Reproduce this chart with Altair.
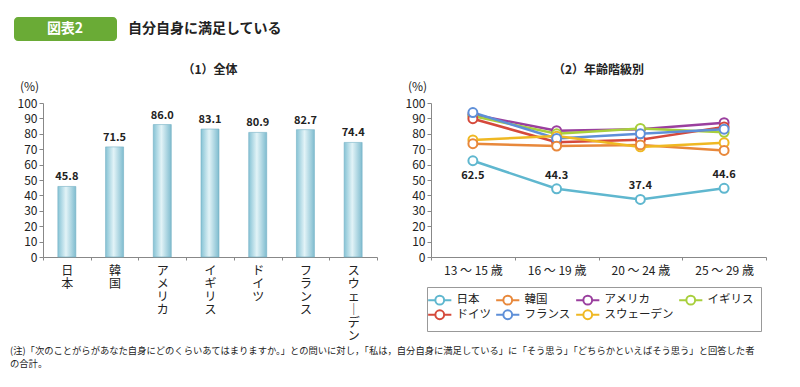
import altair as alt
import pandas as pd

FONT = "Noto Sans CJK JP"

countries = ["日本", "韓国", "アメリカ", "イギリス", "ドイツ", "フランス", "スウェーデン"]
overall = [45.8, 71.5, 86.0, 83.1, 80.9, 82.7, 74.4]
ages = ["13 ～ 15 歳", "16 ～ 19 歳", "20 ～ 24 歳", "25 ～ 29 歳"]
japan = [62.5, 44.3, 37.4, 44.6]
korea = [73.6, 72.0, 72.8, 69.2]
usa = [92.5, 82.0, 83.0, 87.2]
uk = [91.5, 80.0, 83.5, 81.0]
germany = [89.8, 74.5, 76.2, 84.5]
france = [93.8, 77.0, 80.0, 83.0]
sweden = [76.0, 78.5, 71.5, 74.2]
colors = ["#5fb7cf", "#e8883b", "#9a3f9e", "#a8cf3c", "#d5493b", "#5e8fd8", "#efb823"]

title_label = "図表2"
title_text = "自分自身に満足している"
sub1 = "（1）全体"
sub2 = "（2）年齢階級別"
note = [
    "(注)「次のことがらがあなた自身にどのくらいあてはまりますか。」との問いに対し，「私は，自分自身に満足している」に「そう思う」「どちらかといえばそう思う」と回答した者",
    "\u3000 の合計。",
]

bar_df = pd.DataFrame({"country": countries, "value": overall})
series = [japan, korea, usa, uk, germany, france, sweden]
rows = []
for c, vals in zip(countries, series):
    for a, v in zip(ages, vals):
        rows.append({"country": c, "age": a, "value": v})
line_df = pd.DataFrame(rows)

yscale = alt.Scale(domain=[0, 100], nice=False)
yaxis = alt.Axis(values=list(range(0, 101, 10)), title="(%)", titleAngle=0, titleX=-14, titleY=-10,
                 titleAlign="center", titleBaseline="bottom", titleFontWeight="normal",
                 titleFontSize=12, grid=False, tickSize=4, labelPadding=2, labelOverlap=False,
                 labelFontSize=12)
Y = alt.Y("value:Q", scale=yscale, axis=yaxis)

# Header
hdr_base = alt.Chart(alt.Data(values=[{"a": 1}]))
hdr = alt.layer(
    hdr_base.mark_rect(color="#6aab36", cornerRadius=4).encode(
        x=alt.value(-29), x2=alt.value(74), y=alt.value(9), y2=alt.value(33)),
    hdr_base.mark_text(color="white", fontSize=14, fontWeight="bold", font=FONT).encode(
        x=alt.value(22), y=alt.value(21), text=alt.value(title_label)),
    hdr_base.mark_text(color="#222", fontSize=14, fontWeight="bold", font=FONT, align="left").encode(
        x=alt.value(85), y=alt.value(21), text=alt.value(title_text)),
).properties(width=700, height=34)

# Left: bars
grad = alt.Gradient(gradient="linear", x1=0, x2=1, y1=0, y2=0,
                    stops=[alt.GradientStop(color="#86c3d5", offset=0),
                           alt.GradientStop(color="#e2f3f7", offset=0.45),
                           alt.GradientStop(color="#7fbccf", offset=1)])
xb = alt.X("country:N", sort=countries, title=None,
           scale=alt.Scale(paddingInner=0, paddingOuter=0),
           axis=alt.Axis(labelAngle=0, labelBaseline="top", tickBand="extent", tickSize=3,
                         labelExpr="split(replace(datum.label,'ー','｜'),'')",
                         labelLineHeight=13, labelFontSize=12, labelPadding=5))
bars = alt.Chart(bar_df).mark_bar(size=18, color=grad, stroke="#74b0c4", strokeWidth=0.6).encode(
    x=xb, y=Y)
blabels = alt.Chart(bar_df).mark_text(dy=-9, fontSize=11, fontWeight="bold", font=FONT, color="#222").encode(
    x=alt.X("country:N", sort=countries), y=Y, text=alt.Text("value:Q", format=".1f"))
left = alt.layer(bars, blabels).properties(
    width=334, height=154,
    title=alt.TitleParams(sub1, fontSize=12, fontWeight="bold", anchor="middle", offset=3))

# Right: lines
sym = "M-2.9,0H-1.1M1.1,0H2.9M1.1,0A1.1,1.1,0,1,1,-1.1,0A1.1,1.1,0,1,1,1.1,0Z"
cscale = alt.Scale(domain=countries, range=colors)
legend = alt.Legend(title=None, orient="none", legendX=384, legendY=279, columns=4, direction="horizontal",
                    symbolType=sym, symbolSize=64, symbolStrokeWidth=2, symbolFillColor="white",
                    labelFontSize=11.5, labelOffset=11, columnPadding=1, rowPadding=-3,
                    gridAlign="each", strokeColor="#999", padding=7)
xl = alt.X("age:N", sort=ages, title=None, scale=alt.Scale(paddingInner=0, paddingOuter=0),
           axis=alt.Axis(labelAngle=0, tickBand="extent", tickSize=3, labelFontSize=12, labelPadding=5))
base = alt.Chart(line_df).encode(
    x=xl, y=Y,
    color=alt.Color("country:N", scale=cscale, sort=countries, legend=legend),
    order=alt.Order("country:N"))
lines = base.mark_line(strokeWidth=2.5)
pts = base.mark_point(filled=False, fill="white", fillOpacity=1, size=80, strokeWidth=2, opacity=1)
jp = alt.Chart(line_df).transform_filter(alt.datum.country == "日本")
jl1 = jp.transform_filter(alt.datum.age == ages[0]).mark_text(
    dy=15, fontSize=11, fontWeight="bold", font=FONT, color="#222").encode(
    x=alt.X("age:N", sort=ages), y=Y, text=alt.Text("value:Q", format=".1f"))
jl2 = jp.transform_filter(alt.datum.age != ages[0]).mark_text(
    dy=-13, fontSize=11, fontWeight="bold", font=FONT, color="#222").encode(
    x=alt.X("age:N", sort=ages), y=Y, text=alt.Text("value:Q", format=".1f"))
right = alt.layer(lines, pts, jl1, jl2).properties(
    width=335, height=154,
    title=alt.TitleParams(sub2, fontSize=12, fontWeight="bold", anchor="middle", offset=3))

panels = alt.hconcat(left, right, spacing=27)
chart = alt.vconcat(hdr, panels, spacing=22).properties(
    padding={"left": 2, "top": 0, "right": 0, "bottom": 0},
    title=alt.TitleParams(note, orient="bottom", anchor="start", fontSize=9.3, fontWeight="normal",
                          color="#222", offset=6, lineHeight=13, dx=-4)
).configure(font=FONT).configure_view(stroke=None).configure_axis(
    labelFont=FONT, titleFont=FONT, labelColor="#222", titleColor="#222",
    domainColor="#888", tickColor="#888", labelFontSize=12
).configure_legend(labelFont=FONT, labelColor="#222").configure_title(font=FONT, color="#222")

chart.save("out.html", embed_options={"renderer": "svg", "actions": False})
